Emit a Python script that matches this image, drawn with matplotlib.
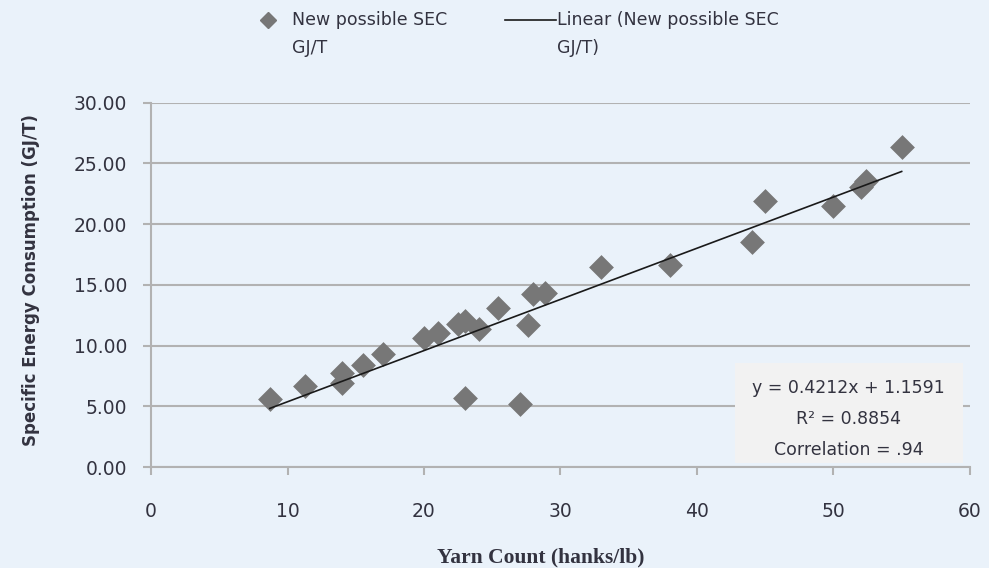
import numpy as np
import matplotlib
matplotlib.use("Agg")
import matplotlib.pyplot as plt
from matplotlib.lines import Line2D
from matplotlib.patches import Rectangle

# yarn count (hanks/lb) vs specific energy consumption (GJ/T)
yarn_count = [8.7, 11.3, 14.0, 14.0, 15.5, 17.0, 20.0, 21.0, 22.5, 23.0, 23.0, 24.0,
              25.4, 27.6, 27.0, 28.0, 28.9, 33.0, 38.0, 44.0, 45.0, 50.0, 52.0, 52.4, 55.0]
sec_gj_t = [5.6, 6.7, 7.7, 6.9, 8.4, 9.3, 10.6, 11.05, 11.75, 12.0, 5.7, 11.35,
            13.05, 11.7, 5.15, 14.2, 14.3, 16.45, 16.6, 18.55, 21.9, 21.5, 23.05, 23.5, 26.3]

# trend line as printed on the chart
slope, intercept = 0.4212, 1.1591
eq_lines = ["y = 0.4212x + 1.1591", "R\u00b2 = 0.8854", "Correlation = .94"]

bg = "#eaf2fa"
grid_c = "#b2b2b2"
txt_c = "#333340"
marker_c = "#777777"
font = "DejaVu Sans"

fig = plt.figure(figsize=(9.89, 5.68), dpi=100, facecolor=bg)
ax = fig.add_axes([0.1527, 0.1778, 0.828, 0.6417])
ax.set_facecolor(bg)

ax.scatter(yarn_count, sec_gj_t, marker="D", s=160, color=marker_c, linewidths=0, zorder=3)
xs = np.array([min(yarn_count), max(yarn_count)])
ax.plot(xs, slope * xs + intercept, color="#1a1a1a", lw=1.2, zorder=4)

ax.set_xlim(0, 60)
ax.set_ylim(0, 30)
ax.set_xticks(range(0, 61, 10))
ax.set_yticks(range(0, 31, 5))
ax.set_yticklabels([f"{v:.2f}" for v in range(0, 31, 5)])
ax.yaxis.grid(True, color=grid_c, lw=1.5, zorder=1)
ax.set_axisbelow(True)
for s in ["top", "right"]:
    ax.spines[s].set_visible(False)
for s in ["left", "bottom"]:
    ax.spines[s].set_color(grid_c)
    ax.spines[s].set_linewidth(1.5)
ax.tick_params(axis="y", length=6, width=1.5, color=grid_c, pad=11, labelsize=13.5, labelcolor=txt_c)
ax.tick_params(axis="x", length=6, width=1.5, color=grid_c, pad=19, labelsize=13.5, labelcolor=txt_c)
for lab in ax.get_xticklabels() + ax.get_yticklabels():
    lab.set_family(font)

ax.set_xlabel("Yarn Count (hanks/lb)", family="Liberation Serif", fontweight="bold",
              fontsize=15.5, color=txt_c)
ax.xaxis.set_label_coords(0.476, -0.222)
ax.set_ylabel("Specific Energy Consumption (GJ/T)", family=font, fontweight="bold",
              fontsize=12, color=txt_c)
ax.yaxis.set_label_coords(-0.136, 0.514)

# equation box
ax.add_patch(Rectangle((0.713, 0.011), 0.278, 0.274, transform=ax.transAxes,
                       facecolor="#f2f2f2", edgecolor="none", zorder=2))
for i, line in enumerate(eq_lines):
    ax.text(0.852, 0.217 - i * 0.085, line, transform=ax.transAxes, ha="center", va="center",
            family=font, fontsize=12.5, color=txt_c, zorder=5)

# legend drawn at top
fig.lines.append(Line2D([0.271], [0.965], transform=fig.transFigure, marker="D",
                        markersize=8, color=marker_c, lw=0))
fig.text(0.295, 0.965, "New possible SEC", family=font, fontsize=12.5,
         color=txt_c, va="center")
fig.text(0.295, 0.915, "GJ/T", family=font, fontsize=12.5, color=txt_c, va="center")
fig.lines.append(Line2D([0.511, 0.562], [0.965, 0.965], transform=fig.transFigure,
                        color="#1a1a1a", lw=1.2))
fig.text(0.563, 0.965, "Linear (New possible SEC", family=font, fontsize=12.5,
         color=txt_c, va="center")
fig.text(0.563, 0.915, "GJ/T)", family=font, fontsize=12.5, color=txt_c, va="center")

fig.savefig("out.png", dpi=100, facecolor=bg)
